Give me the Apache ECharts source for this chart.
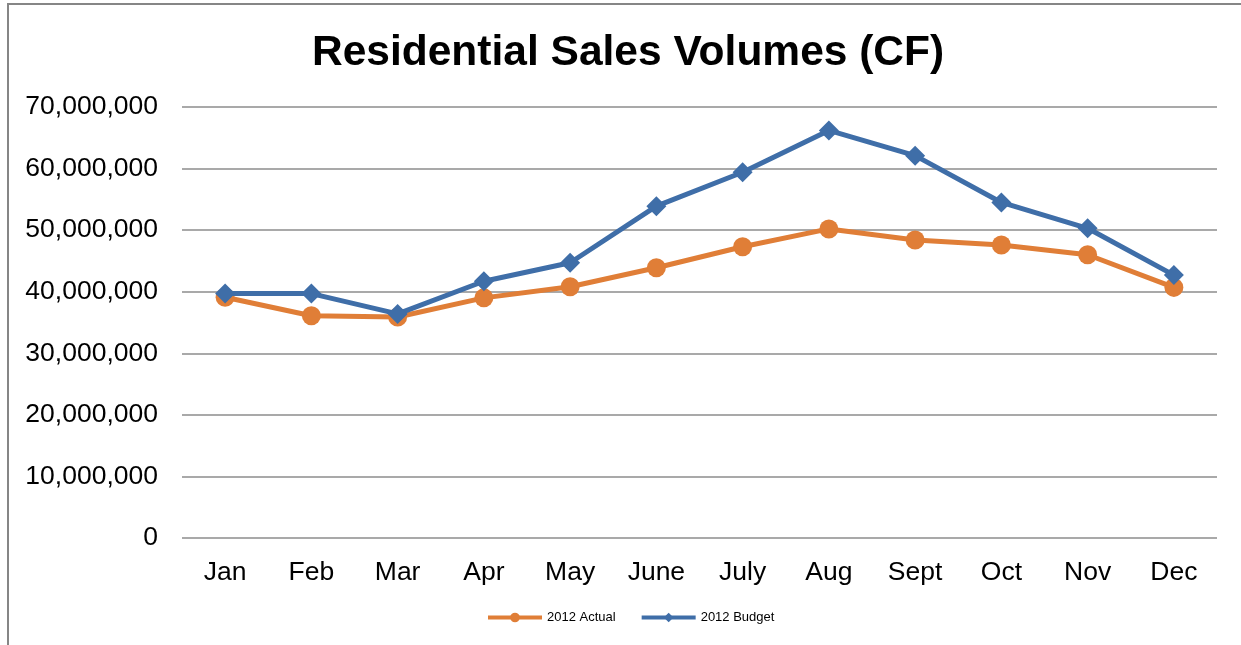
<!DOCTYPE html>
<html>
<head>
<meta charset="utf-8">
<script src="https://cdn.jsdelivr.net/npm/echarts@6/dist/echarts.min.js"></script>
<style>
html,body{margin:0;padding:0;background:#fff;}
#c{width:1241px;height:645px;}
</style>
</head>
<body>
<div id="c"></div>
<script>
const titleText = 'Residential Sales Volumes (CF)';
const categories = ['Jan','Feb','Mar','Apr','May','June','July','Aug','Sept','Oct','Nov','Dec'];
const actualName = '2012 Actual';
const budgetName = '2012 Budget';
const actual2012 = [39100000, 36100000, 35900000, 39000000, 40800000, 43900000, 47300000, 50200000, 48400000, 47600000, 46000000, 40700000];
const budget2012 = [39700000, 39700000, 36400000, 41700000, 44700000, 53900000, 59400000, 66200000, 62100000, 54500000, 50300000, 42700000];

const chart = echarts.init(document.getElementById('c'));
const font = 'Liberation Sans, Arial, sans-serif';
chart.setOption({
  animation: false,
  backgroundColor: '#fff',
  graphic: [{
    type: 'rect',
    shape: {x: 8, y: 4, width: 1400, height: 800},
    style: {fill: 'none', stroke: '#868686', lineWidth: 2},
    silent: true, z: -1
  }],
  title: {
    text: titleText,
    left: 307,
    top: 27,
    textStyle: {fontFamily: font, fontSize: 42.5, fontWeight: 'bold', color: '#000'}
  },
  legend: {
    bottom: 16,
    left: 481,
    itemWidth: 54,
    itemHeight: 12,
    itemGap: 24,
    lineStyle: {width: 4},
    textStyle: {fontFamily: font, fontSize: 13, color: '#000'},
    data: [actualName, budgetName]
  },
  grid: {left: 182, right: 24, top: 107, bottom: 107},
  xAxis: {
    type: 'category',
    data: categories,
    boundaryGap: true,
    axisLine: {show: false},
    axisTick: {show: false},
    axisLabel: {fontFamily: font, fontSize: 26.5, color: '#000', margin: 21}
  },
  yAxis: {
    type: 'value',
    min: 0,
    max: 70000000,
    interval: 10000000,
    axisLine: {show: false},
    axisTick: {show: false},
    splitLine: {lineStyle: {color: '#8c8c8c', width: 1.5}},
    axisLabel: {
      fontFamily: font, fontSize: 26.5, color: '#000', margin: 24,
      formatter: v => v.toLocaleString('en-US')
    }
  },
  series: [{
    name: actualName,
    type: 'line',
    data: actual2012,
    symbol: 'circle',
    symbolSize: 19,
    lineStyle: {color: '#E07E37', width: 5},
    itemStyle: {color: '#E07E37'},
    z: 2
  }, {
    name: budgetName,
    type: 'line',
    data: budget2012,
    symbol: 'diamond',
    symbolSize: 20,
    lineStyle: {color: '#3F6EA8', width: 5},
    itemStyle: {color: '#3F6EA8'},
    z: 3
  }]
});
</script>
</body>
</html>
